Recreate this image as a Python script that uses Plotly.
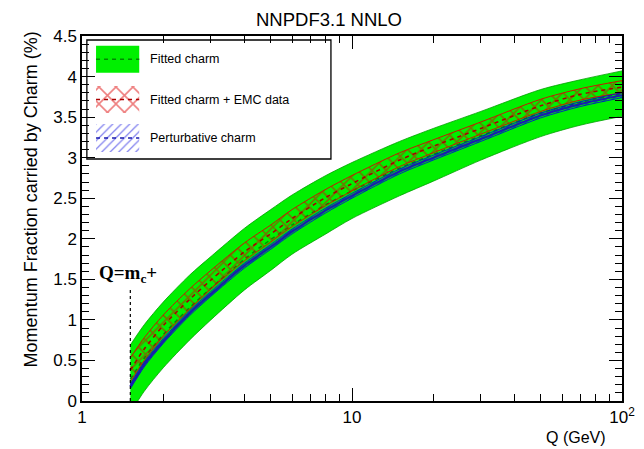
import numpy as np
import plotly.graph_objects as go

q = [1.51, 1.7, 2.0, 2.5, 3.0, 4.0, 5.0, 6.0, 8.0, 10.0, 15.0, 20.0, 30.0, 50.0, 70.0, 100.0]

# Fitted charm (green band)
fit_lo = [-0.15, 0.12, 0.41, 0.75, 1.00, 1.37, 1.61, 1.81, 2.06, 2.25, 2.53, 2.71, 2.97, 3.26, 3.40, 3.51]
fit_hi = [0.69, 0.94, 1.22, 1.55, 1.78, 2.13, 2.36, 2.54, 2.78, 2.94, 3.20, 3.36, 3.57, 3.84, 3.96, 4.07]
fit_cv = [0.27, 0.53, 0.82, 1.15, 1.39, 1.75, 1.99, 2.17, 2.42, 2.59, 2.87, 3.04, 3.27, 3.55, 3.68, 3.79]

# Fitted charm + EMC data (red hatched band)
emc_lo = [0.24, 0.50, 0.80, 1.13, 1.38, 1.73, 1.96, 2.15, 2.41, 2.59, 2.89, 3.06, 3.29, 3.57, 3.71, 3.80]
emc_hi = [0.53, 0.78, 1.06, 1.38, 1.61, 1.95, 2.17, 2.36, 2.61, 2.78, 3.06, 3.22, 3.44, 3.72, 3.85, 3.95]
emc_cv = [0.38, 0.64, 0.93, 1.25, 1.49, 1.84, 2.06, 2.25, 2.51, 2.68, 2.97, 3.14, 3.36, 3.64, 3.78, 3.87]

# Perturbative charm (blue band)
pch_lo = [0.15, 0.42, 0.71, 1.05, 1.29, 1.64, 1.87, 2.06, 2.32, 2.50, 2.80, 2.97, 3.20, 3.49, 3.63, 3.74]
pch_hi = [0.21, 0.48, 0.77, 1.11, 1.35, 1.70, 1.93, 2.12, 2.38, 2.56, 2.86, 3.03, 3.26, 3.55, 3.69, 3.80]
pch_cv = [0.18, 0.45, 0.74, 1.08, 1.32, 1.67, 1.90, 2.09, 2.35, 2.53, 2.83, 3.00, 3.23, 3.52, 3.66, 3.77]

mc = 1.51
mc_line = [0.0, 1.38]

xticks = [1, 10, 100]
xticklabels = ["1", "10", "10<sup>2</sup>"]
yticks = [0, 0.5, 1, 1.5, 2, 2.5, 3, 3.5, 4, 4.5]
yticklabels = ["0", "0.5", "1", "1.5", "2", "2.5", "3", "3.5", "4", "4.5"]

FONT = "Liberation Sans, Arial, sans-serif"
GREEN = "#00f000"
RED = "#dd0000"
BLUE = "#0000dd"
SHORT_DASH = "4px,4px"


def curve(y, color, width, dash="solid", **kw):
    return go.Scatter(x=q, y=y, mode="lines",
                      line=dict(color=color, width=width, dash=dash, shape="spline", smoothing=0.8),
                      showlegend=False, hoverinfo="skip", **kw)


fig = go.Figure()

# green band
fig.add_trace(curve(fit_lo, "#00a000", 0.8))
fig.add_trace(curve(fit_hi, "#00a000", 0.8, fill="tonexty", fillcolor=GREEN))
fig.add_trace(curve(fit_cv, "#009000", 1.5, SHORT_DASH))

# red hatched band
fig.add_trace(curve(emc_lo, RED, 0.9))
fig.add_trace(curve(emc_hi, RED, 0.9, fill="tonexty", fillcolor="rgba(0,0,0,0)",
                    fillpattern=dict(shape="x", fgcolor=RED, bgcolor="rgba(0,0,0,0)",
                                     size=10, solidity=0.3)))
fig.add_trace(curve(emc_cv, "#aa0000", 1.6, SHORT_DASH))

# blue band
fig.add_trace(curve(pch_lo, BLUE, 0.8))
fig.add_trace(curve(pch_hi, BLUE, 0.8, fill="tonexty", fillcolor="rgba(0,0,0,0)",
                    fillpattern=dict(shape="/", fgcolor=BLUE, bgcolor="rgba(0,0,0,0)",
                                     size=5, solidity=0.4)))
fig.add_trace(curve(pch_cv, "#1a1ab0", 2.2))

# Q = m_c marker
fig.add_trace(go.Scatter(x=[mc, mc], y=mc_line, mode="lines",
                         line=dict(color="black", width=1.2, dash="dot"), showlegend=False))
fig.add_annotation(x=np.log10(mc) - 0.01, y=1.57, xref="x", yref="y", showarrow=False,
                   text="<b>Q=m<sub>c</sub>+</b>", xanchor="center", yanchor="middle",
                   font=dict(family="Liberation Serif, Times New Roman, serif", size=19, color="black"))

# hand-drawn legend on an overlay axis (0..1 in both directions)
sw_x0, sw_x1 = 0.026, 0.106
legend_rows = [
    ("Fitted charm", 0.899, 0.973),
    ("Fitted charm + EMC data", 0.789, 0.863),
    ("Perturbative charm", 0.682, 0.759),
]
for i, (label, y0, y1) in enumerate(legend_rows):
    box_x = [sw_x0, sw_x1, sw_x1, sw_x0, sw_x0]
    box_y = [y0, y0, y1, y1, y0]
    ym = (y0 + y1) / 2
    if i == 0:
        fig.add_trace(go.Scatter(x=box_x, y=box_y, xaxis="x2", yaxis="y2", mode="lines",
                                 line=dict(width=0), fill="toself", fillcolor=GREEN,
                                 showlegend=False, hoverinfo="skip"))
        dcol = "#008800"
    elif i == 1:
        fig.add_trace(go.Scatter(x=box_x, y=box_y, xaxis="x2", yaxis="y2", mode="lines",
                                 line=dict(width=0), fill="toself", fillcolor="rgba(0,0,0,0)",
                                 fillpattern=dict(shape="x", fgcolor=RED, bgcolor="rgba(0,0,0,0)",
                                                  size=12, solidity=0.25),
                                 showlegend=False, hoverinfo="skip"))
        dcol = "#aa0000"
    else:
        fig.add_trace(go.Scatter(x=box_x, y=box_y, xaxis="x2", yaxis="y2", mode="lines",
                                 line=dict(width=0), fill="toself", fillcolor="rgba(0,0,0,0)",
                                 fillpattern=dict(shape="/", fgcolor=BLUE, bgcolor="rgba(0,0,0,0)",
                                                  size=6, solidity=0.2),
                                 showlegend=False, hoverinfo="skip"))
        dcol = "#1a1ab0"
    fig.add_trace(go.Scatter(x=[sw_x0, sw_x1], y=[ym, ym], xaxis="x2", yaxis="y2", mode="lines",
                             line=dict(color=dcol, width=1.5, dash=SHORT_DASH),
                             showlegend=False, hoverinfo="skip"))
    fig.add_annotation(x=0.122, y=ym, xref="x2", yref="y2", text=label, showarrow=False,
                       xanchor="left", yanchor="middle",
                       font=dict(family=FONT, size=12.5, color="black"))

fig.add_shape(type="rect", xref="paper", yref="paper", x0=0.009, x1=0.461, y0=0.663, y1=0.989,
              line=dict(color="black", width=1.3), layer="above")

# titles
fig.add_annotation(x=0.457, y=1.044, xref="paper", yref="paper", text="NNPDF3.1 NNLO",
                   showarrow=False, xanchor="center", yanchor="middle",
                   font=dict(family=FONT, size=18.5, color="black"))
fig.add_annotation(x=-0.094, y=0.553, xref="paper", yref="paper",
                   text="Momentum Fraction carried by Charm (%)", textangle=-90,
                   showarrow=False, xanchor="center", yanchor="middle",
                   font=dict(family=FONT, size=18, color="black"))
fig.add_annotation(x=0.974, y=-0.099, xref="paper", yref="paper", text="Q (GeV)",
                   showarrow=False, xanchor="right", yanchor="middle",
                   font=dict(family=FONT, size=16, color="black"))

# page body adds an 8px margin, so the figure is drawn 8px smaller and shifted
fig.update_layout(
    width=636, height=441,
    margin=dict(l=74, r=22, t=28, b=48),
    paper_bgcolor="white", plot_bgcolor="white",
    showlegend=False,
    font=dict(family=FONT, size=17, color="black"),
    xaxis=dict(type="log", range=[0, 2], tickvals=xticks, ticktext=xticklabels,
               ticks="inside", ticklen=13, tickwidth=1, tickcolor="black",
               showline=True, linecolor="black", linewidth=1.5, mirror="allticks",
               showgrid=False, zeroline=False, automargin=False,
               minor=dict(ticks="inside", ticklen=7, tickcolor="black", dtick="D1", showgrid=False),
               tickfont=dict(family=FONT, size=17)),
    yaxis=dict(range=[0, 4.5], tickvals=yticks, ticktext=yticklabels,
               ticks="inside", ticklen=13, tickwidth=1, tickcolor="black",
               showline=True, linecolor="black", linewidth=1.5, mirror="allticks",
               showgrid=False, zeroline=False, automargin=False,
               minor=dict(ticks="inside", ticklen=7, tickcolor="black", dtick=0.1, showgrid=False),
               tickfont=dict(family=FONT, size=17)),
    xaxis2=dict(overlaying="x", range=[0, 1], visible=False),
    yaxis2=dict(overlaying="y", range=[0, 1], visible=False),
)

fig.write_html("out.html")
